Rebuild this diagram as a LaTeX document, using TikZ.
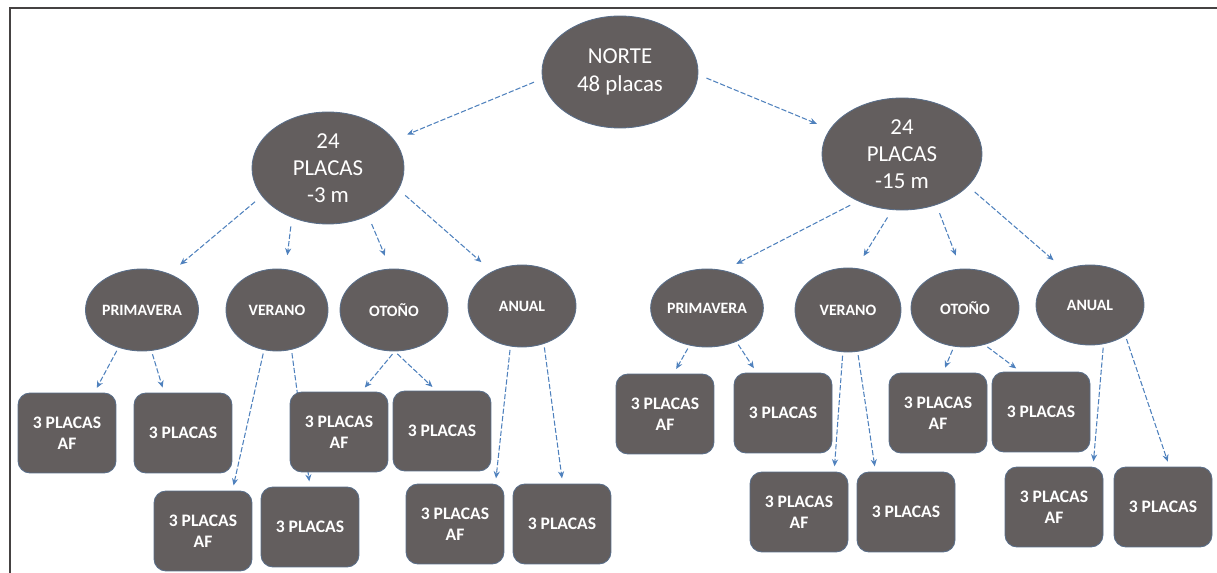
\documentclass[tikz,border=0pt]{standalone}
\usepackage{fontspec}
\setmainfont{Carlito}
\usepackage{tikz}
\usetikzlibrary{arrows.meta,shapes.geometric,backgrounds}

\definecolor{gris}{RGB}{99,94,94}
\definecolor{azul}{RGB}{79,129,189}

\begin{document}
\begin{tikzpicture}[x=0.02cm, y=-0.02cm,
		nodo/.style={ellipse, fill=gris, draw=azul!45!gris, line width=0.5pt, text=white, inner sep=0pt, align=center},
		grande/.style={nodo, font=\fontsize{13}{15.5}\selectfont},
		estacion/.style={nodo, minimum width=2.16cm, minimum height=1.64cm, font=\fontsize{9}{11}\selectfont\bfseries},
		caja/.style={rectangle, rounded corners=0.24cm, fill=gris, draw=azul!45!gris, line width=0.5pt, text=white, align=center, minimum width=1.96cm, minimum height=1.6cm, font=\fontsize{10}{12}\selectfont\bfseries},
		flecha/.style={draw=azul, line width=0.6pt, dash pattern=on 3pt off 1.2pt, -{Stealth[length=4pt,width=3.5pt]}, shorten >=3pt, shorten <=2pt},
		lejos/.style={flecha, shorten >=8pt, shorten <=5pt}]
				\useasboundingbox (0,0) rectangle (1217,573);
				\draw [gris!70!black, line width=1pt] (10,573) -- (10,8) -- (1217,8);

				\node [grande, minimum width=3.12cm, minimum height=2.24cm] (norte) at (620, 72) {NORTE\\48 placas};
				\node [grande, minimum width=3.04cm, minimum height=2.24cm] (izq) at (328, 168) {24\\PLACAS\\-3 m};
				\node [grande, minimum width=3.2cm, minimum height=2.24cm] (der) at (902, 154) {24\\PLACAS\\-15 m};

				% -3 m
				\node [estacion, minimum width=2.26cm] (primI) at (142, 310) {PRIMAVERA};
				\node [estacion, minimum width=2.04cm] (verI) at (277, 310) {VERANO};
				\node [estacion] (otoI) at (394, 310) {OTOÑO};
				\node [estacion] (anuI) at (522, 306) {ANUAL};

				\node [caja] (b1) at (67, 433) {3 PLACAS\\AF};
				\node [caja] (b2) at (183, 433) {3 PLACAS};
				\node [caja] (b3) at (339, 432) {3 PLACAS\\AF};
				\node [caja] (b4) at (442, 431) {3 PLACAS};
				\node [caja] (b5) at (203, 531) {3 PLACAS\\AF};
				\node [caja] (b6) at (310, 527) {3 PLACAS};
				\node [caja] (b7) at (455, 524) {3 PLACAS\\AF};
				\node [caja] (b8) at (562, 524) {3 PLACAS};

				% -15 m
				\node [estacion, minimum height=1.56cm] (primD) at (707, 308) {PRIMAVERA};
				\node [estacion, minimum width=2.12cm, minimum height=1.68cm] (verD) at (848, 310) {VERANO};
				\node [estacion, minimum height=1.56cm] (otoD) at (965, 308) {OTOÑO};
				\node [estacion, minimum height=1.6cm] (anuD) at (1090, 305) {ANUAL};

				\node [caja] (r1) at (665, 414) {3 PLACAS\\AF};
				\node [caja] (r2) at (783, 413) {3 PLACAS};
				\node [caja] (r3) at (938, 413) {3 PLACAS\\AF};
				\node [caja] (r4) at (1041, 412) {3 PLACAS};
				\node [caja] (r5) at (799, 512) {3 PLACAS\\AF};
				\node [caja] (r6) at (906, 512) {3 PLACAS};
				\node [caja] (r7) at (1054, 507) {3 PLACAS\\AF};
				\node [caja] (r8) at (1163, 507) {3 PLACAS};

				\begin{scope}[on background layer]
				\draw [lejos] (norte.185) to (izq.23);
				\draw [lejos] (norte.-2) to (der.161);

				\draw [lejos] (izq.203) to (primI.53);
				\draw [lejos] (izq.234) to (verI.78);
				\draw [lejos] (izq.310) to (otoI.95);
				\draw [lejos] (izq.-17) to (anuI.131);
				\draw [lejos] (der.227) to (primD.66);
				\draw [lejos] (der.260) to (verD.79);
				\draw [lejos] (der.304) to (otoD.96);
				\draw [lejos] (der.334) to (anuD.126);

				\draw [flecha] (primI.238) to (b1.56);
				\draw [flecha] (primI.283) to (b2.115);
				\draw [flecha] (verI.252) to (b5.54);
				\draw [flecha] (verI.290) to (b6.90);
				\draw [flecha] (otoI.271) to (b3.61);
				\draw [flecha] (otoI.271) to (b4.98);
				\draw [flecha] (anuI.254) to (b7.45);
				\draw [flecha] (anuI.300) to (b8.89);

				\draw [flecha] (primD.245) to (r1.78);
				\draw [flecha] (primD.311) to (r2.123);
				\draw [flecha] (verD.263) to (r5.49);
				\draw [flecha] (verD.283) to (r6.127);
				\draw [flecha] (otoD.254) to (r3.83);
				\draw [flecha] (otoD.298) to (r4.117);
				\draw [flecha] (anuD.289) to (r7.46);
				\draw [flecha] (anuD.319) to (r8.81);
				\end{scope}
		\end{tikzpicture}
\end{document}
